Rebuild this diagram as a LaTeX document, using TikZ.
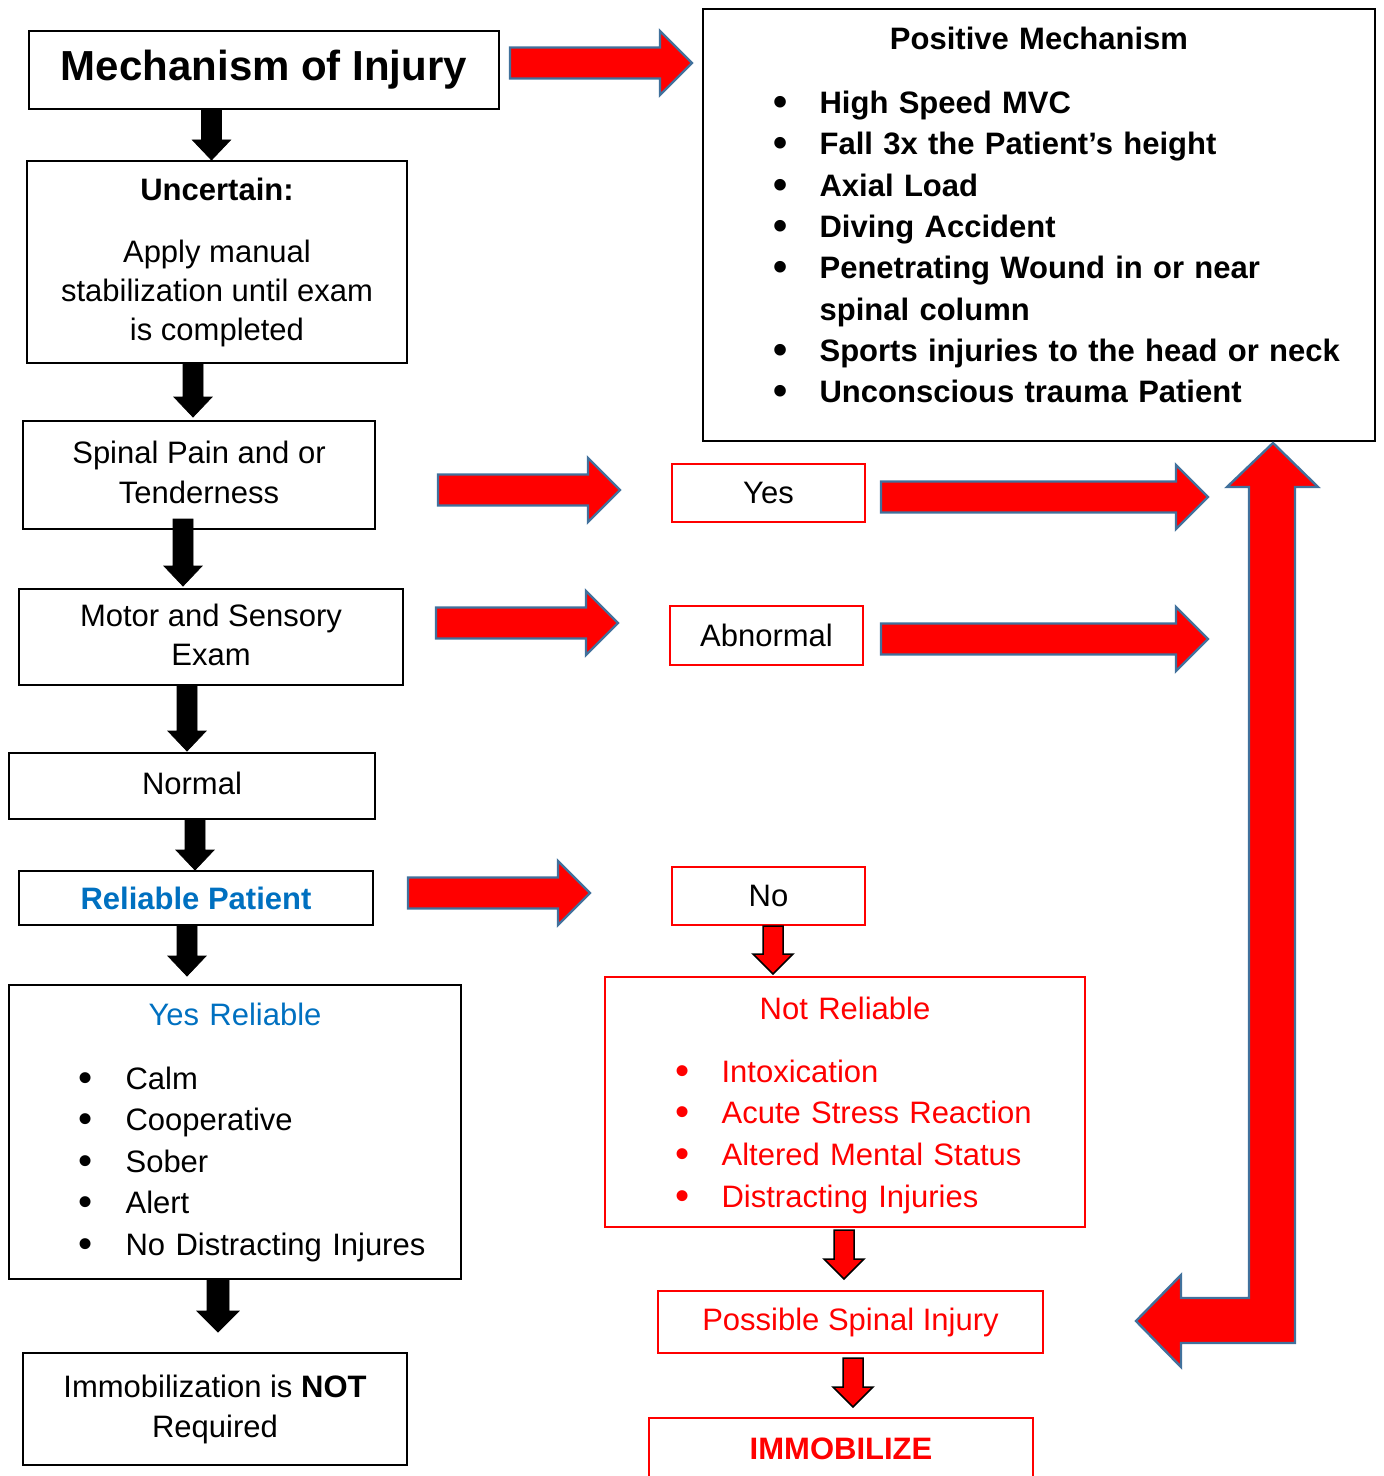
\documentclass[tikz,border=0pt]{standalone}
\usepackage{fontspec}
\setmainfont{Liberation Sans}
\usepackage{graphicx}
\usetikzlibrary{calc}
\definecolor{arrowred}{HTML}{FF0000}
\definecolor{edgeblue}{HTML}{41719C}
\definecolor{reliableblue}{HTML}{0070C0}

\newcommand{\bodyfont}{\fontsize{15.5}{20}\selectfont}
\newcommand{\bulletitem}[1]{\par\hangindent=58.3pt\hangafter=1\noindent\hspace*{35pt}\makebox[23.3pt][l]{\raisebox{-1pt}{\scalebox{1.3}{\textbullet}}}#1}
% block arrow: style, tail, tip, half shaft, half head, head length
\newcommand{\blockarrow}[6]{%
  \path (#3) coordinate (ba-t) ($(#3)!#6!(#2)$) coordinate (ba-h);
  \draw[#1] ($(#2)!#4!90:(#3)$) -- ($(ba-h)!#4!90:(ba-t)$) -- ($(ba-h)!#5!90:(ba-t)$) -- (ba-t)
    -- ($(ba-h)!#5!-90:(ba-t)$) -- ($(ba-h)!#4!-90:(ba-t)$) -- ($(#2)!#4!-90:(#3)$) -- cycle;}

\begin{document}
\begin{tikzpicture}[x=0.5pt, y=-0.5pt,
    box/.style={draw, line width=1pt, font=\bodyfont, align=center, inner sep=1pt},
    redbox/.style={box, draw=arrowred, text=arrowred},
    answerbox/.style={box, draw=arrowred, minimum width=96.5pt, minimum height=29pt},
    listbox/.style={box, align=left, inner xsep=0pt},
    blackblock/.style={fill=black},
    reddown/.style={fill=arrowred, draw=black, line width=0.75pt, line join=miter},
    sideblock/.style={fill=arrowred, draw=edgeblue, line width=1.2pt, line join=miter},
]
\useasboundingbox (0,0) rectangle (1383,1476);

% Left column
\node[box, minimum width=235pt, minimum height=39pt, font=\fontsize{21}{25}\selectfont\bfseries] (moi) at (264,70) {Mechanism of Injury};
\node[box, minimum width=190pt, minimum height=101pt, font=\fontsize{15.5}{19.5}\selectfont] (unc) at (217,262) {\textbf{Uncertain:}\\[11.5pt]Apply manual\\stabilization until exam\\is completed};
\node[box, minimum width=176pt, minimum height=54pt] (spn) at (199,475) {Spinal Pain and or\\Tenderness\rule[-3pt]{0pt}{3pt}};
\node[box, minimum width=192pt, minimum height=48pt, font=\fontsize{15.5}{19.5}\selectfont] (mot) at (211,637) {Motor and Sensory\\Exam\rule[-2pt]{0pt}{2pt}};
\node[box, minimum width=183pt, minimum height=33pt] (nor) at (192,786) {Normal\rule[-3pt]{0pt}{3pt}};
\node[box, minimum width=177pt, minimum height=27pt, text=reliableblue, font=\bodyfont\bfseries] (rel) at (196,898) {Reliable Patient};
\node[listbox, text width=226pt, minimum height=147pt, font=\fontsize{15.5}{20.75}\selectfont] (yrel) at (235,1132) {{\centering\color{reliableblue}Yes Reliable\par}\vspace{11.25pt}%
  \bulletitem{Calm}\bulletitem{Cooperative}\bulletitem{Sober}\bulletitem{Alert}\bulletitem{No Distracting Injures}};
\node[box, minimum width=192pt, minimum height=56pt] (imm) at (215,1409) {Immobilization is \textbf{NOT}\\Required};

% Right column
\node[listbox, text width=336pt, minimum height=216pt, font=\fontsize{15.5}{20.65}\selectfont\bfseries] (posm) at (1039,225) {{\centering Positive Mechanism\par}\vspace{11.35pt}%
  \bulletitem{High Speed MVC}\bulletitem{Fall 3x the Patient’s height}\bulletitem{Axial Load}\bulletitem{Diving Accident}%
  \bulletitem{Penetrating Wound in or near\newline spinal column}\bulletitem{Sports injuries to the head or neck}%
  \bulletitem{Unconscious trauma Patient\rule[-10pt]{0pt}{10pt}}};
\node[answerbox] (yes) at (768.5,493) {Yes};
\node[answerbox, minimum height=29.5pt] (abn) at (766.5,635.5) {Abnormal};
\node[answerbox] (no) at (768.5,896) {No};
\node[listbox, draw=arrowred, text=arrowred, text width=240pt, minimum height=125pt, font=\fontsize{15.5}{20.85}\selectfont] (nrel) at (845,1102) {{\centering\rule{0pt}{14.5pt}Not Reliable\par}\vspace{10.65pt}%
  \bulletitem{Intoxication}\bulletitem{Acute Stress Reaction}\bulletitem{Altered Mental Status}\bulletitem{Distracting Injuries}};
\node[redbox, minimum width=192.5pt, minimum height=31pt] (psi) at (850.5,1322) {Possible Spinal Injury};
\node[redbox, minimum width=192pt, minimum height=31pt, font=\bodyfont\bfseries] (immz) at (841,1449) {IMMOBILIZE};

% Black arrows down the left
\coordinate (d1a) at ($(moi.south)+(-52.5,0)$);
\coordinate (d1b) at (d1a |- unc.north);
\blockarrow{blackblock}{d1a}{d1b}{5pt}{9.5pt}{10pt}
\coordinate (d2a) at ($(unc.south)+(-24,0)$);
\coordinate (d2b) at ($(d2a |- spn.north)+(0,-3)$);
\blockarrow{blackblock}{d2a}{d2b}{5pt}{9.5pt}{10pt}
\coordinate (d3a) at ($(spn.south)+(-16,-11)$);
\coordinate (d3b) at ($(d3a |- mot.north)+(0,-2)$);
\blockarrow{blackblock}{d3a}{d3b}{5pt}{9.5pt}{10pt}
\coordinate (d4a) at ($(mot.south)+(-24,0)$);
\coordinate (d4b) at ($(d4a |- nor.north)+(0,-1)$);
\blockarrow{blackblock}{d4a}{d4b}{5pt}{9.5pt}{10pt}
\coordinate (d5a) at ($(nor.south)+(3,0)$);
\coordinate (d5b) at (d5a |- rel.north);
\blockarrow{blackblock}{d5a}{d5b}{5pt}{9.5pt}{10pt}
\coordinate (d6a) at ($(rel.south)+(-9,0)$);
\coordinate (d6b) at ($(d6a |- yrel.north)+(0,-8)$);
\blockarrow{blackblock}{d6a}{d6b}{5pt}{9.5pt}{10pt}
\coordinate (d7a) at ($(yrel.south)+(-17,0)$);
\coordinate (d7b) at ($(d7a |- imm.north)+(0,-20)$);
\blockarrow{blackblock}{d7a}{d7b}{5.5pt}{10.5pt}{10.5pt}

% Red arrows down the right
\coordinate (e1a) at ($(no.south)+(4.5,0)$);
\coordinate (e1b) at ($(e1a |- nrel.north)+(0,-2)$);
\blockarrow{reddown}{e1a}{e1b}{5pt}{10pt}{10pt}
\coordinate (e2a) at ($(nrel.south)+(-1,2)$);
\coordinate (e2b) at ($(e2a |- psi.north)+(0,-11)$);
\blockarrow{reddown}{e2a}{e2b}{5pt}{10pt}{10pt}
\coordinate (e3a) at ($(psi.south)+(2.5,4)$);
\coordinate (e3b) at ($(e3a |- immz.north)+(0,-10)$);
\blockarrow{reddown}{e3a}{e3b}{5pt}{10pt}{10pt}

% Side arrows
\coordinate (ut) at ($(posm.south east)+(-103,1)$);
\coordinate (lt) at ($(ut |- psi.east)+(-137,-1)$);
\coordinate (r1a) at ($(moi.east)+(10,-7)$);
\coordinate (r1b) at ($(r1a -| posm.west)+(-10,0)$);
\blockarrow{sideblock}{r1a}{r1b}{7.75pt}{16pt}{16pt}
\coordinate (r2a) at ($(spn.east)+(62,15)$);
\coordinate (r2b) at ($(r2a -| yes.west)+(-51,0)$);
\blockarrow{sideblock}{r2a}{r2b}{7.75pt}{16pt}{16pt}
\coordinate (r3a) at ($(yes.east)+(15,4)$);
\coordinate (r3b) at ($(r3a -| ut)+(-65,0)$);
\blockarrow{sideblock}{r3a}{r3b}{7.75pt}{16pt}{16pt}
\coordinate (r4a) at ($(mot.east)+(32,-14)$);
\coordinate (r4b) at ($(r4a -| abn.west)+(-51,0)$);
\blockarrow{sideblock}{r4a}{r4b}{7.75pt}{16pt}{16pt}
\coordinate (r5a) at ($(abn.east)+(17,3.5)$);
\coordinate (r5b) at ($(r5a -| ut)+(-65,0)$);
\blockarrow{sideblock}{r5a}{r5b}{7.75pt}{16pt}{16pt}
\coordinate (r6a) at ($(rel.east)+(34,-5)$);
\coordinate (r6b) at ($(r6a -| no.west)+(-81,0)$);
\blockarrow{sideblock}{r6a}{r6b}{7.75pt}{16pt}{16pt}

% Return arrow
\draw[sideblock] (ut) -- ($(ut)+(45,44)$) -- ($(ut)+(22,44)$) -- ($(lt)+(159,22)$) -- ($(lt)+(45,22)$)
  -- ($(lt)+(45,46)$) -- (lt) -- ($(lt)+(45,-46)$) -- ($(lt)+(45,-23)$) -- ($(lt)+(113,-23)$)
  -- ($(ut)+(-24,44)$) -- ($(ut)+(-46,44)$) -- cycle;

\end{tikzpicture}
\end{document}
